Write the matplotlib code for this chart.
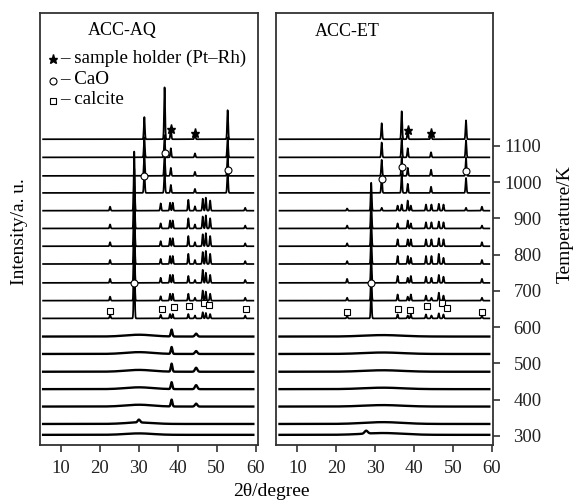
import numpy as np
import matplotlib
matplotlib.use('Agg')
import matplotlib.pyplot as plt

plt.rcParams['font.family'] = ['Liberation Serif', 'DejaVu Serif']

W, H, DPI = 579, 504, 100

# ---------------- data ----------------
# baselines (K) of the stacked patterns, bottom -> top
BASELINES = [303, 333, 381, 429, 477, 526, 574, 624, 673, 722, 774, 823,
             872, 921, 970, 1017, 1068, 1118]
TEMP_TICKS = [300, 400, 500, 600, 700, 800, 900, 1000, 1100]
X_TICKS = [10, 20, 30, 40, 50, 60]

# ACC-AQ ---------------------------------------------------------------
AQ_AM_POS = [30.0, 30.0, 38.4, 44.7]
AQ_AM_WID = [3.5, 0.3, 0.2, 0.3]
AQ_AM_H = [[4, 0, 0, 0],      # 303
           [4, 8, 0, 0],      # 333
           [5, 0, 19, 8],     # 381
           [5, 0, 19, 11],    # 429
           [5, 0, 22, 11],    # 477
           [5, 0, 19, 8],     # 526
           [5, 0, 19, 8]]     # 574

AQ_CAL_POS = [22.6, 28.8, 35.6, 38.0, 38.7, 42.7, 44.4, 46.4, 47.2, 48.3, 57.3]
AQ_CAL_H = [[10, 165, 10, 12, 12, 12, 8, 17, 15, 12, 8],    # 624
            [11, 165, 12, 19, 19, 19, 8, 28, 25, 19, 8],    # 673
            [11, 165, 14, 22, 22, 19, 8, 36, 28, 22, 8],    # 722
            [11, 165, 14, 22, 22, 28, 11, 33, 36, 28, 8],   # 774
            [11, 165, 14, 22, 22, 28, 11, 33, 36, 28, 8],   # 823
            [11, 165, 14, 22, 22, 28, 11, 33, 36, 28, 8],   # 872
            [11, 163, 20, 22, 22, 30, 12, 33, 36, 28, 8]]   # 921

AQ_CAO_POS = [31.4, 36.6, 38.2, 44.4, 52.8]
AQ_CAO_H = [[61, 61, 22, 11, 61],     # 970
            [61, 61, 22, 11, 61],     # 1017
            [55, 61, 25, 11, 55],     # 1068
            [61, 143, 30, 19, 80]]    # 1118

AQ_STAR_X, AQ_STAR_Y = [38.2, 44.4], [1146, 1135]
AQ_CIRC_X, AQ_CIRC_Y = [31.4, 36.6, 52.8, 28.8], [1017, 1079, 1033, 721]
AQ_SQ_X = [22.6, 35.9, 39.0, 42.9, 46.7, 48.0, 57.4]
AQ_SQ_Y = [645, 649, 655, 658, 666, 661, 649]

# ACC-ET ---------------------------------------------------------------
ET_AM_POS = [32.0, 27.7]
ET_AM_WID = [5.0, 0.4]
ET_AM_H = [[5, 8], [5, 0], [4, 0], [4, 0], [4, 0], [4, 0], [4, 0]]

ET_CAL_POS = [22.8, 29.0, 31.7, 35.8, 36.85, 38.4, 39.2, 43.1, 44.5, 46.4,
              47.6, 53.4, 57.5]
ET_CAL_H = [[8, 72, 0, 11, 0, 8, 11, 11, 8, 14, 11, 0, 8],       # 624
            [8, 72, 0, 17, 0, 11, 17, 14, 8, 22, 14, 0, 8],      # 673
            [11, 72, 0, 19, 0, 14, 19, 17, 14, 22, 17, 0, 11],   # 722
            [8, 72, 0, 22, 0, 22, 17, 22, 22, 28, 17, 0, 11],    # 774
            [8, 72, 0, 19, 0, 19, 19, 19, 19, 22, 19, 0, 11],    # 823
            [8, 72, 0, 14, 0, 22, 14, 17, 17, 19, 17, 0, 8],     # 872
            [6, 77, 8, 14, 17, 28, 14, 17, 17, 19, 17, 8, 11]]   # 921

ET_CAO_POS = [31.7, 36.85, 38.4, 44.4, 53.4]
ET_CAO_H = [[47, 52, 25, 17, 41],     # 970
            [44, 52, 22, 17, 50],     # 1017
            [41, 52, 25, 14, 47],     # 1068
            [44, 77, 28, 19, 52]]     # 1118

ET_STAR_X, ET_STAR_Y = [38.4, 44.4], [1144, 1135]
ET_CIRC_X, ET_CIRC_Y = [31.7, 36.85, 53.4, 29.0], [1007, 1042, 1030, 723]
ET_SQ_X = [22.7, 36.0, 39.0, 43.3, 47.1, 48.4, 57.4]
ET_SQ_Y = [641, 650, 647, 658, 667, 652, 643]

# ---------------- helpers ----------------
x = np.linspace(5.4, 59.4, 5401)


def pattern(pos, heights, widths):
    y = np.zeros_like(x)
    for p, h, w in zip(pos, heights, widths):
        if h:
            y += h * np.exp(-0.5 * ((x - p) / w) ** 2)
    return y


def draw_panel(ax, am_pos, am_wid, am_h, cal_pos, cal_h, cao_pos, cao_h,
               stars, circs, sqs):
    i = 0
    for h in am_h:
        ax.plot(x, BASELINES[i] + pattern(am_pos, h, am_wid), color='black',
                lw=1.7, solid_joinstyle='round')
        i += 1
    cal_w = [0.13] * len(cal_pos)
    for h in cal_h:
        ax.plot(x, BASELINES[i] + pattern(cal_pos, h, cal_w), color='black',
                lw=1.25)
        i += 1
    cao_w = [0.13] * len(cao_pos)
    for h in cao_h:
        ax.plot(x, BASELINES[i] + pattern(cao_pos, h, cao_w), color='black',
                lw=1.25)
        i += 1
    ax.plot(stars[0], stars[1], ls='none', marker='*', ms=6.5,
            color='black', zorder=5)
    ax.plot(circs[0], circs[1], ls='none', marker='o', ms=5, mfc='white',
            mec='black', mew=0.8, zorder=5)
    ax.plot(sqs[0], sqs[1], ls='none', marker='s', ms=4.6, mfc='white',
            mec='black', mew=0.8, zorder=5)


fig = plt.figure(figsize=(W / DPI, H / DPI), dpi=DPI)


def ax_rect(x0, x1, y0, y1):
    return [x0 / W, 1 - y1 / H, (x1 - x0) / W, (y1 - y0) / H]


axL = fig.add_axes(ax_rect(40, 258, 13, 445))
axR = fig.add_axes(ax_rect(276, 493, 13, 445))

draw_panel(axL, AQ_AM_POS, AQ_AM_WID, AQ_AM_H, AQ_CAL_POS, AQ_CAL_H,
           AQ_CAO_POS, AQ_CAO_H, (AQ_STAR_X, AQ_STAR_Y),
           (AQ_CIRC_X, AQ_CIRC_Y), (AQ_SQ_X, AQ_SQ_Y))
draw_panel(axR, ET_AM_POS, ET_AM_WID, ET_AM_H, ET_CAL_POS, ET_CAL_H,
           ET_CAO_POS, ET_CAO_H, (ET_STAR_X, ET_STAR_Y),
           (ET_CIRC_X, ET_CIRC_Y), (ET_SQ_X, ET_SQ_Y))

YLIM = (275, 1466)
axL.set_xlim(4.6, 60.6)
axR.set_xlim(4.5, 60.35)
for ax in (axL, axR):
    ax.set_ylim(*YLIM)
    ax.set_xticks(X_TICKS)
    for s in ax.spines.values():
        s.set_linewidth(1.3)
        s.set_color('#333333')
    ax.tick_params(axis='x', direction='out', length=5, width=1.1,
                   labelsize=13.5, pad=5.5, colors='#222222')

axL.set_yticks([])
axR.yaxis.tick_right()
axR.set_yticks(TEMP_TICKS)
axR.set_yticklabels([str(t) for t in TEMP_TICKS])
axR.tick_params(axis='y', direction='out', length=5, width=1.1,
                labelsize=13.5, pad=30, colors='#222222')
for lab in axR.get_yticklabels():
    lab.set_horizontalalignment('right')


def ftxt(px, py, s, **kw):
    fig.text(px / W, 1 - py / H, s, **kw)


ftxt(122, 30, 'ACC-AQ', ha='center', va='center', fontsize=13)
ftxt(347, 31, 'ACC-ET', ha='center', va='center', fontsize=13)


# legend in left panel
def fmark(px, py, **kw):
    fig.lines.append(plt.Line2D([px / W], [1 - py / H],
                                transform=fig.transFigure, ls='none', **kw))


fmark(52.5, 59, marker='*', ms=6.5, color='black')
fmark(53, 81, marker='o', ms=5, mfc='white', mec='black', mew=0.8)
fmark(52.5, 100.5, marker='s', ms=4.6, mfc='white', mec='black', mew=0.8)
ftxt(60, 58, '\u2013 sample holder (Pt\u2013Rh)', ha='left', va='center',
     fontsize=13.7)
ftxt(60, 80, '\u2013 CaO', ha='left', va='center', fontsize=13.7)
ftxt(60, 99, '\u2013 calcite', ha='left', va='center', fontsize=13.7)

ftxt(19, 232, 'Intensity/a. u.', ha='center', va='center', rotation=90,
     fontsize=14)
ftxt(565, 224, 'Temperature/K', ha='center', va='center', rotation=90,
     fontsize=14)
ftxt(271, 492, '2\u03b8/degree', ha='center', va='center', fontsize=14)

fig.savefig('out.png', dpi=DPI)
